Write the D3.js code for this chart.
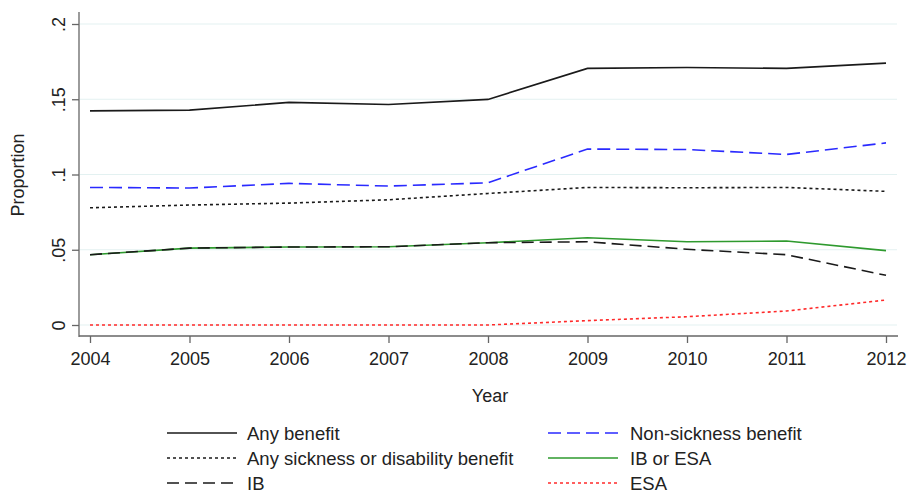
<!DOCTYPE html>
<html>
<head>
<meta charset="utf-8">
<script src="https://cdn.jsdelivr.net/npm/d3@7"></script>
<style>
body { margin: 0; background: #fff; }
text { font-family: 'Liberation Sans', Arial, sans-serif; fill: #222; }
</style>
</head>
<body>
<div id="chart"></div>
<script>
var years = [2004, 2005, 2006, 2007, 2008, 2009, 2010, 2011, 2012]
var anyBenefit = [0.1423, 0.1428, 0.1479, 0.1465, 0.1499, 0.1705, 0.1711, 0.1705, 0.1740]
var nonSickness = [0.0914, 0.0910, 0.0941, 0.0923, 0.0945, 0.1169, 0.1166, 0.1133, 0.1210]
var anySickness = [0.0779, 0.0797, 0.0810, 0.0832, 0.0874, 0.0914, 0.0912, 0.0914, 0.0888]
var ibOrEsa = [0.0467, 0.0511, 0.0518, 0.0520, 0.0547, 0.0580, 0.0553, 0.0558, 0.0494]
var ib = [0.0467, 0.0511, 0.0518, 0.0520, 0.0547, 0.0553, 0.0503, 0.0467, 0.0330]
var esa = [0, 0, 0, 0, 0, 0.0029, 0.0055, 0.0093, 0.0166]
var yTicks = [0, 0.05, 0.1, 0.15, 0.2]
var yTickLabels = ['0', '.05', '.1', '.15', '.2']

var series = [
    { name: 'Any benefit', values: anyBenefit, color: '#1a1a1a', dash: null },
    { name: 'Any sickness or disability benefit', values: anySickness, color: '#1a1a1a', dash: '3,3' },
    { name: 'IB', values: ib, color: '#1a1a1a', dash: '12,6' },
    { name: 'Non-sickness benefit', values: nonSickness, color: '#2a2aff', dash: '13,6' },
    { name: 'IB or ESA', values: ibOrEsa, color: '#2e9a2e', dash: null },
    { name: 'ESA', values: esa, color: '#ff2a2a', dash: '3,3' }
]

var width = 907, height = 492

var svg = d3.select('#chart').append('svg')
    .attr('width', width)
    .attr('height', height)

var x = d3.scaleLinear()
    .domain([2004, 2012])
    .range([90, 886])

var y = d3.scaleLinear()
    .domain([0, 0.2])
    .range([325, 24])

// gridlines
svg.append('g')
    .selectAll('line')
    .data(yTicks)
    .enter().append('line')
    .attr('x1', 80).attr('x2', 897)
    .attr('y1', function(d) { return y(d) })
    .attr('y2', function(d) { return y(d) })
    .attr('stroke', '#e3f1f1')
    .attr('stroke-width', 1)

// y axis
var yAxis = svg.append('g')
    .attr('transform', 'translate(79,0)')
    .call(d3.axisLeft(y)
        .tickValues(yTicks)
        .tickSize(7)
        .tickFormat(function(d, i) { return yTickLabels[i] }))
yAxis.select('.domain').attr('d', 'M0,12V337').attr('stroke', '#666').attr('stroke-width', 1.3)
yAxis.selectAll('.tick line').attr('stroke', '#666').attr('stroke-width', 1.3)
yAxis.selectAll('.tick text')
    .attr('x', 0).attr('dy', null)
    .attr('transform', 'translate(-20,0) rotate(-90)')
    .attr('text-anchor', 'middle')
    .attr('dominant-baseline', 'central')
    .style('font-size', '18px')
    .style('font-family', null)

// x axis
var xAxis = svg.append('g')
    .attr('transform', 'translate(0,336)')
    .call(d3.axisBottom(x)
        .tickValues(years)
        .tickSize(7)
        .tickFormat(d3.format('d')))
xAxis.select('.domain').attr('d', 'M79,0H898').attr('stroke', '#666').attr('stroke-width', 1.3)
xAxis.selectAll('.tick line').attr('stroke', '#666').attr('stroke-width', 1.3)
xAxis.selectAll('.tick text')
    .attr('y', 23).attr('dy', null)
    .attr('dominant-baseline', 'central')
    .style('font-size', '18px')
    .style('font-family', null)

// axis titles
svg.append('text')
    .attr('transform', 'translate(18,175) rotate(-90)')
    .attr('text-anchor', 'middle')
    .attr('dominant-baseline', 'central')
    .style('font-size', '18px')
    .text('Proportion')

svg.append('text')
    .attr('x', 490).attr('y', 396)
    .attr('text-anchor', 'middle')
    .attr('dominant-baseline', 'central')
    .style('font-size', '18px')
    .text('Year')

var line = d3.line()
    .x(function(d, i) { return x(years[i]) })
    .y(function(d) { return y(d) })

// draw in order so IB sits over green like the original
var drawOrder = [0, 3, 1, 4, 2, 5]
svg.append('g')
    .selectAll('path')
    .data(drawOrder.map(function(i) { return series[i] }))
    .enter().append('path')
    .attr('d', function(d) { return line(d.values) })
    .attr('fill', 'none')
    .attr('stroke', function(d) { return d.color })
    .attr('stroke-width', 1.6)
    .attr('stroke-dasharray', function(d) { return d.dash })

// legend
var legend = svg.append('g')
    .selectAll('g')
    .data(series)
    .enter().append('g')
    .attr('transform', function(d, i) {
        var col = i < 3 ? 0 : 1
        var row = i % 3
        return 'translate(' + (col ? 548 : 167) + ',' + (433 + row * 25) + ')'
    })

legend.append('line')
    .attr('x1', 0).attr('x2', 70)
    .attr('stroke', function(d) { return d.color })
    .attr('stroke-width', 1.6)
    .attr('stroke-dasharray', function(d) { return d.dash })

legend.append('text')
    .attr('x', function(d, i) { return i < 3 ? 80 : 82 })
    .attr('dominant-baseline', 'central')
    .style('font-size', '18.5px')
    .text(function(d) { return d.name })
</script>
</body>
</html>
